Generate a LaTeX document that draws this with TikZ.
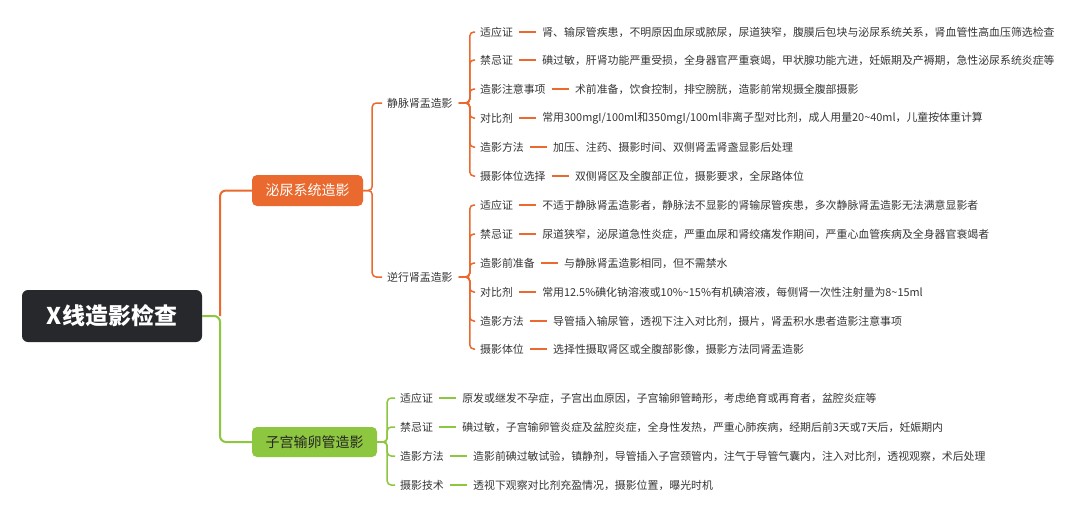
\documentclass[tikz,border=0pt]{standalone}
\usepackage{fontspec}
\setmainfont{Noto Sans CJK SC}
\definecolor{orn}{HTML}{E9692E}
\definecolor{grn}{HTML}{8DC63F}
\definecolor{rootc}{HTML}{26282C}
\definecolor{txt}{HTML}{363636}
\begin{document}
\begin{tikzpicture}[x=1pt,y=-1pt,
  leaf/.style={anchor=west, inner sep=0pt, font=\fontsize{10.9}{13}\selectfont, text=txt},
  mid/.style={anchor=west, inner sep=0pt, font=\fontsize{10.9}{13}\selectfont, text=txt},
  oline/.style={draw=orn, line width=1.5pt, rounded corners=4pt},
  gline/.style={draw=grn, line width=1.5pt, rounded corners=4pt},
  dashl/.style={line width=1.5pt, shorten <=6pt, shorten >=6pt}
]
\useasboundingbox[fill=white] (0,0) rectangle (1080,517);

% root and level 1
\node[fill=rootc, rounded corners=6pt, minimum width=180pt, minimum height=52pt, inner sep=0pt,
      text=white, font=\fontsize{23}{26}\selectfont\bfseries] (root) at (112,316) {X线造影检查};
\node[fill=orn, rounded corners=5pt, minimum width=111pt, minimum height=31pt, inner sep=0pt,
      text=white, font=\fontsize{14}{16}\selectfont] (uro) at (307.5,190.5) {泌尿系统造影};
\node[fill=grn, rounded corners=5pt, minimum width=125pt, minimum height=30pt, inner sep=0pt,
      text=black!85, font=\fontsize{14}{16}\selectfont] (hsg) at (314.5,442) {子宫输卵管造影};

\coordinate (rj) at (220,316);
\draw[oline, line width=2pt, rounded corners=6pt] (rj) |- (uro.west);
\draw[gline, line width=2pt, rounded corners=6pt] (root.east) -- (rj) |- (hsg.west);

% level 2
\node[mid] (ivp) at (387,103) {静脉肾盂造影};
\node[mid] (rp) at (387,277) {逆行肾盂造影};
\draw[oline] (uro.east) -- ([xshift=9pt]uro.east) |- ([xshift=-5pt]ivp.west);
\draw[oline] (uro.east) -- ([xshift=9pt]uro.east) |- ([xshift=-5pt]rp.west);

% IVP leaves
\foreach \n/\y/\lab/\txt in {
  a1/32/适应证/{肾、输尿管疾患，不明原因血尿或脓尿，尿道狭窄，腹膜后包块与泌尿系统关系，肾血管性高血压筛选检查},
  a2/60/禁忌证/{碘过敏，肝肾功能严重受损，全身器官严重衰竭，甲状腺功能亢进，妊娠期及产褥期，急性泌尿系统炎症等},
  a3/89/造影注意事项/{术前准备，饮食控制，排空膀胱，造影前常规摄全腹部摄影},
  a4/118/对比剂/{常用300mgI/100ml和350mgI/100ml非离子型对比剂，成人用量20\textasciitilde40ml，儿童按体重计算},
  a5/147/造影方法/{加压、注药、摄影时间、双侧肾盂肾盏显影后处理},
  a6/176/摄影体位选择/{双侧肾区及全腹部正位，摄影要求，全尿路体位}}{
  \node[leaf] (\n) at (480,\y) {\lab};
  \node[leaf] (\n t) at ([xshift=29pt]\n.east) {\txt};
  \draw[draw=orn, dashl] (\n.east) -- (\n t.west);
  \draw[oline] ([xshift=6pt]ivp.east) -- ([xshift=17pt]ivp.east) |- ([xshift=-5pt]\n.west);
}

% RP leaves
\foreach \n/\y/\lab/\txt in {
  b1/205/适应证/{不适于静脉肾盂造影者，静脉法不显影的肾输尿管疾患，多次静脉肾盂造影无法满意显影者},
  b2/234/禁忌证/{尿道狭窄，泌尿道急性炎症，严重血尿和肾绞痛发作期间，严重心血管疾病及全身器官衰竭者},
  b3/263/造影前准备/{与静脉肾盂造影相同，但不需禁水},
  b4/292/对比剂/{常用12.5\%碘化钠溶液或10\%\textasciitilde15\%有机碘溶液，每侧肾一次性注射量为8\textasciitilde15ml},
  b5/321/造影方法/{导管插入输尿管，透视下注入对比剂，摄片，肾盂积水患者造影注意事项},
  b6/349/摄影体位/{选择性摄取肾区或全腹部影像，摄影方法同肾盂造影}}{
  \node[leaf] (\n) at (480,\y) {\lab};
  \node[leaf] (\n t) at ([xshift=29pt]\n.east) {\txt};
  \draw[draw=orn, dashl] (\n.east) -- (\n t.west);
  \draw[oline] ([xshift=6pt]rp.east) -- ([xshift=17pt]rp.east) |- ([xshift=-5pt]\n.west);
}

% HSG leaves
\foreach \n/\y/\lab/\txt in {
  c1/398/适应证/{原发或继发不孕症，子宫出血原因，子宫输卵管畸形，考虑绝育或再育者，盆腔炎症等},
  c2/427/禁忌证/{碘过敏，子宫输卵管炎症及盆腔炎症，全身性发热，严重心肺疾病，经期后前3天或7天后，妊娠期内},
  c3/456/造影方法/{造影前碘过敏试验，镇静剂，导管插入子宫颈管内，注气于导管气囊内，注入对比剂，透视观察，术后处理},
  c4/485/摄影技术/{透视下观察对比剂充盈情况，摄影位置，曝光时机}}{
  \node[leaf] (\n) at (400,\y) {\lab};
  \node[leaf] (\n t) at ([xshift=29pt]\n.east) {\txt};
  \draw[draw=grn, dashl] (\n.east) -- (\n t.west);
  \draw[gline] (hsg.east) -- ([xshift=10pt]hsg.east) |- ([xshift=-5pt]\n.west);
}
\end{tikzpicture}
\end{document}
